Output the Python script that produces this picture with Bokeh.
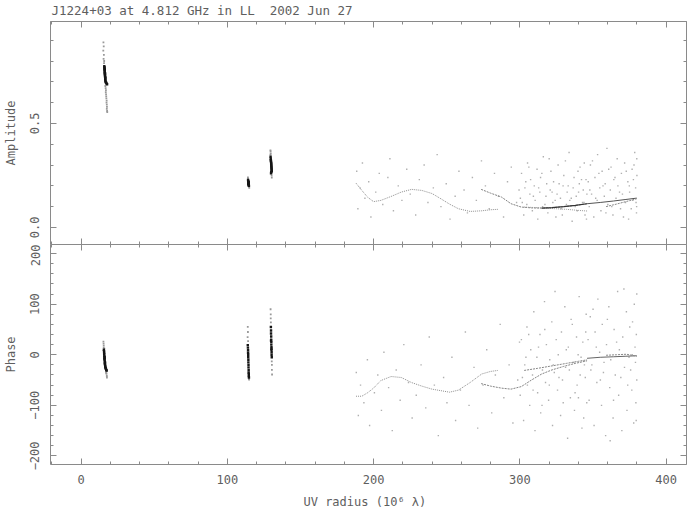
from bokeh.plotting import figure
from bokeh.layouts import column
from bokeh.models import FixedTicker, LinearAxis, Range1d, PrintfTickFormatter
from bokeh.embed import file_html
from bokeh.resources import INLINE

# ---------------- data ----------------
title_text = "J1224+03 at 4.812 GHz in LL\u00a0 2002 Jun 27"
x_major = [0, 100, 200, 300, 400]
amp_major = [0.0, 0.5]
ph_major = [-200, -100, 0, 100, 200]
ph_labels = {-200: "\u2212200", -100: "\u2212100", 0: "0", 100: "100", 200: "200"}

# short-baseline clusters (UV radius, amplitude / phase)
c1_core_uv = [15.9, 16.0, 16.0, 16.1, 16.1, 16.2, 16.2, 16.3, 16.3, 16.4, 16.4, 16.5, 16.5, 16.6, 16.7, 16.8, 17.0, 17.3, 17.6, 17.8, 16.2, 16.4, 16.6]
c1_core_amp = [0.775, 0.77, 0.765, 0.76, 0.755, 0.75, 0.745, 0.74, 0.735, 0.73, 0.725, 0.72, 0.715, 0.71, 0.705, 0.70, 0.697, 0.694, 0.69, 0.688, 0.76, 0.74, 0.72]
c1_halo_uv = [15.3, 15.5, 15.2, 15.6, 15.4, 15.8, 15.7, 16.6, 16.8, 17.0, 16.9, 17.1, 17.2, 17.3, 17.5, 17.4, 17.6, 17.7, 17.6, 17.8, 17.9]
c1_halo_amp = [0.89, 0.87, 0.85, 0.83, 0.81, 0.80, 0.79, 0.68, 0.67, 0.66, 0.65, 0.64, 0.63, 0.62, 0.61, 0.60, 0.59, 0.58, 0.57, 0.56, 0.555]
c1p_core_uv = [15.6, 15.7, 15.8, 15.8, 15.9, 16.0, 16.0, 16.1, 16.2, 16.3, 16.3, 16.4, 16.5, 16.6, 16.8, 17.0, 17.2, 17.5, 16.1, 16.4, 16.9]
c1p_core_ph = [10, 7, 4, 1, -2, -5, -8, -10, -13, -16, -18, -20, -22, -24, -26, -28, -30, -31, -6, -15, -27]
c1p_halo_uv = [15.3, 15.4, 15.5, 15.5, 15.9, 16.2, 17.3, 17.4, 17.6, 17.7, 17.1]
c1p_halo_ph = [26, 22, 18, 14, 12, -3, -34, -38, -42, -45, -36]

c2_core_uv = [114.2, 114.3, 114.4, 114.5, 114.4, 114.6, 114.5, 114.7, 114.6, 114.8, 114.5, 114.3]
c2_core_amp = [0.228, 0.224, 0.22, 0.217, 0.214, 0.211, 0.208, 0.205, 0.202, 0.20, 0.218, 0.21]
c2_halo_uv = [114.1, 114.2, 114.9, 115.0, 114.8]
c2_halo_amp = [0.24, 0.235, 0.195, 0.19, 0.197]
c2p_core_uv = [114.0, 114.1, 114.2, 114.2, 114.3, 114.3, 114.4, 114.4, 114.5, 114.5, 114.6, 114.6, 114.7, 114.7, 114.8]
c2p_core_ph = [19, 14, 9, 4, 0, -5, -10, -15, -20, -25, -30, -35, -38, -42, -45]
c2p_halo_uv = [114.0, 114.1, 113.9, 114.2, 114.8, 114.9]
c2p_halo_ph = [55, 45, 35, 27, -48, -49]

c3_core_uv = [129.6, 129.7, 129.8, 129.8, 129.9, 130.0, 130.0, 130.1, 130.1, 130.2, 130.2, 130.3, 130.3, 130.4, 130.0, 129.9]
c3_core_amp = [0.34, 0.33, 0.325, 0.32, 0.315, 0.31, 0.305, 0.30, 0.295, 0.29, 0.285, 0.28, 0.275, 0.27, 0.265, 0.26]
c3_halo_uv = [129.5, 129.6, 129.7, 129.5, 130.3, 130.4]
c3_halo_amp = [0.37, 0.365, 0.355, 0.35, 0.25, 0.24]
c3p_core_uv = [129.8, 129.9, 129.9, 130.0, 130.0, 130.1, 130.1, 130.2, 130.2, 130.3, 130.3, 130.4, 129.9, 130.2]
c3p_core_ph = [55, 48, 42, 36, 30, 25, 20, 15, 10, 5, 0, -5, 28, 12]
c3p_halo_uv = [129.6, 129.7, 129.7, 129.8, 130.4, 130.5, 130.5, 130.6]
c3p_halo_ph = [90, 80, 72, 64, -13, -20, -30, -39]

# long-baseline tracks
trkA_uv = [188, 192, 196, 200, 205, 212, 219, 226, 233, 240, 246, 252, 258, 266, 274, 280, 285]
trkA_amp = [0.213, 0.178, 0.145, 0.124, 0.13, 0.149, 0.17, 0.183, 0.178, 0.163, 0.138, 0.112, 0.09, 0.077, 0.08, 0.085, 0.087]
trkA_ph = [-82, -82, -75, -66, -51, -43, -45, -55, -62, -68, -71, -74, -70, -55, -38, -33, -31]
trkB_uv = [273.6, 280, 287.5, 294, 301, 308, 315, 322, 330, 338, 346]
trkB_amp = [0.183, 0.165, 0.146, 0.114, 0.098, 0.094, 0.093, 0.095, 0.1, 0.106, 0.114]
trkB_ph = [-57, -62, -66, -68, -63, -50, -38, -30, -23, -17, -12]
trkC_uv = [303, 312, 322, 332, 340, 346]
trkC_amp = [0.098, 0.095, 0.091, 0.087, 0.082, 0.079]
trkC_ph = [-31, -27, -22, -17, -13, -10]
trkD_uv = [346, 355, 364, 372, 380]
trkD_amp = [0.114, 0.12, 0.127, 0.134, 0.141]
trkD_ph = [-7, -5, -4, -3, -2]
trkE_uv = [359, 366, 373, 380]
trkE_amp = [0.10, 0.112, 0.125, 0.138]
trkE_ph = [-1, 0, 1, -3]

# scattered long-baseline visibilities (amplitude)
cloud_amp_uv = [188.5, 189.3, 190.8, 192.4, 194.1, 196.7, 198.2, 201.5, 203.9, 206.3, 209.8, 211.2, 213.6, 216.9, 219.4, 222.7, 225.1, 228.8, 231.3, 234.6, 237.2, 240.9, 243.5, 246.1, 249.7, 252.3, 255.8, 258.4, 261.9, 264.2, 267.6, 270.3, 273.8, 276.5, 279.1, 282.7, 285.4, 288.9, 291.6, 294.2, 297.8, 299.5,
                300.4, 301.2, 302.7, 303.5, 304.8, 305.3, 306.9, 307.4, 308.6, 309.9, 310.5, 311.8, 312.3, 313.7, 314.2, 315.6, 316.1, 317.9, 318.4, 319.2, 320.8, 321.3, 322.6, 323.1, 324.7, 325.5, 326.2, 327.8, 328.3, 329.6, 330.1, 331.9, 332.4, 333.7, 334.2, 335.8, 336.5, 337.1, 338.6, 339.3, 340.7, 341.2, 342.9, 343.4, 344.6, 345.3, 345.9,
                301.7, 304.1, 306.2, 309.3, 312.9, 315.1, 317.2, 320.1, 322.1, 324.2, 326.9, 329.1, 331.2, 333.1, 335.2, 337.9, 339.8, 342.2, 344.1, 345.6, 343.9, 340.2,
                346.8, 347.5, 348.3, 349.1, 350.6, 351.4, 352.9, 353.2, 354.7, 355.5, 356.3, 357.8, 358.4, 359.6, 360.2, 361.9, 362.4, 363.7, 364.3, 365.8, 366.6, 367.1, 368.9, 369.5, 370.2, 371.7, 372.3, 373.9, 374.4, 375.1, 376.8, 377.3, 378.6, 379.2, 379.8, 380.1,
                379.5, 378.1, 376.2, 374.9, 372.8, 370.9, 368.2, 365.1, 362.9, 360.8, 358.9, 356.9, 354.1, 351.9, 349.7, 347.9, 380.0, 379.9, 377.7]
cloud_amp = [0.27, 0.09, 0.19, 0.31, 0.14, 0.22, 0.05, 0.17, 0.26, 0.11, 0.24, 0.33, 0.08, 0.20, 0.13, 0.28, 0.16, 0.06, 0.23, 0.30, 0.12, 0.19, 0.35, 0.10, 0.21, 0.04, 0.15, 0.27, 0.18, 0.07, 0.24, 0.13, 0.32, 0.20, 0.09, 0.26, 0.15, 0.05, 0.22, 0.29, 0.12, 0.18,
             0.14, 0.26, 0.06, 0.19, 0.11, 0.31, 0.16, 0.23, 0.08, 0.20, 0.13, 0.28, 0.04, 0.17, 0.24, 0.10, 0.34, 0.15, 0.21, 0.07, 0.18, 0.27, 0.12, 0.22, 0.05, 0.16, 0.30, 0.14, 0.09, 0.20, 0.25, 0.11, 0.17, 0.36, 0.13, 0.03, 0.19, 0.24, 0.15, 0.08, 0.21, 0.29, 0.12, 0.18, 0.06, 0.23, 0.16,
             0.12, 0.22, 0.29, 0.15, 0.19, 0.26, 0.11, 0.33, 0.17, 0.13, 0.21, 0.06, 0.32, 0.20, 0.14, 0.10, 0.27, 0.23, 0.31, 0.04, 0.12, 0.17,
             0.22, 0.10, 0.30, 0.16, 0.05, 0.24, 0.13, 0.35, 0.19, 0.08, 0.27, 0.15, 0.21, 0.38, 0.11, 0.18, 0.29, 0.06, 0.23, 0.14, 0.33, 0.20, 0.09, 0.26, 0.16, 0.31, 0.12, 0.22, 0.04, 0.17, 0.28, 0.13, 0.36, 0.19, 0.07, 0.25,
             0.12, 0.30, 0.09, 0.20, 0.27, 0.05, 0.17, 0.24, 0.10, 0.28, 0.07, 0.20, 0.26, 0.14, 0.32, 0.18, 0.33, 0.10, 0.23]

# scattered long-baseline visibilities (phase)
cloud_ph_uv = [188.2, 189.6, 191.1, 193.4, 195.8, 197.3, 200.6, 202.9, 205.4, 207.1, 210.3, 212.8, 215.5, 218.2, 220.7, 223.9, 226.4, 229.2, 232.5, 235.7, 238.1, 241.6, 244.3, 247.9, 250.2, 253.6, 256.1, 259.4, 262.8, 265.3, 268.7, 271.2, 274.9, 277.4, 280.8, 283.3, 286.6, 289.1, 292.7, 295.3, 298.6, 299.8,
               300.3, 301.1, 302.6, 303.4, 304.9, 305.2, 306.8, 307.5, 308.7, 309.6, 310.4, 311.7, 312.2, 313.8, 314.3, 315.5, 316.9, 317.6, 318.2, 319.7, 320.5, 321.9, 322.4, 323.6, 324.1, 325.8, 326.3, 327.9, 328.5, 329.2, 330.8, 331.3, 332.7, 333.2, 334.6, 335.1, 336.9, 337.4, 338.8, 339.2, 340.6, 341.9, 342.5, 343.1, 344.8, 345.4, 345.8,
               301.8, 304.2, 306.1, 309.1, 312.8, 315.2, 317.1, 320.2, 322.9, 324.9, 326.8, 329.7, 331.8, 333.9, 335.9, 337.8, 339.9, 341.3, 343.7, 345.1, 344.2, 340.1,
               346.7, 347.4, 348.2, 349.3, 350.8, 351.5, 352.7, 353.4, 354.6, 355.9, 356.4, 357.2, 358.7, 359.3, 360.9, 361.5, 362.2, 363.8, 364.5, 365.3, 366.9, 367.6, 368.1, 369.8, 370.4, 371.6, 372.9, 373.3, 374.7, 375.2, 376.6, 377.9, 378.3, 379.1, 379.7, 380.0,
               379.4, 378.8, 377.1, 375.8, 373.8, 371.2, 369.1, 366.2, 364.1, 361.8, 359.9, 357.6, 355.1, 352.3, 350.1, 348.6, 380.0, 379.6, 376.9]
cloud_ph = [-35, -120, -60, -95, -10, -140, -75, -40, -110, 5, -65, -150, -30, -90, 20, -55, -125, -80, -20, -105, 35, -60, -160, -45, -95, -5, -130, -70, 45, -100, -25, -145, -60, 10, -115, -40, 60, -85, -20, -135, -50, 25,
            -80, 30, -130, -20, 55, -60, -100, 10, -40, 85, -150, -5, -75, 40, -115, -30, 105, -55, 20, -90, -10, 65, -140, -35, 125, -70, 0, -120, 45, -50, 95, -25, -165, 15, -85, 70, -15, -110, 35, -60, 115, -5, -145, 25, -45, 80, -95,
            -45, -5, 40, -70, 15, -100, 50, -60, -20, 30, -45, -95, 10, -30, 60, -75, 0, -40, -125, 45, -20, -85,
            30, -90, 75, -20, -140, 45, -55, 110, 5, -100, 60, -35, -160, 20, 95, -65, -10, -125, 50, -40, 125, -80, 10, -150, 35, -25, 85, -110, -5, 55, -70, -135, 100, -15, 40, -50,
            -95, 15, 65, -30, -60, 130, -45, 25, -90, -170, 70, -15, -50, 15, 90, -30, 120, -130, 0]

# ---------------- style ----------------
AX = "#8a8a8a"
TXT = "#5e5e5e"
FONT = "DejaVu Sans Mono"
FS = "12px"
W = 691
H1 = 244
H2 = 267

xr = Range1d(-20.9, 414.0)

x_minor = [v for v in range(-20, 421, 20) if v % 100 != 0]
amp_minor = [0.1, 0.2, 0.3, 0.4, 0.6, 0.7, 0.8, 0.9]
ph_minor = [v for v in range(-220, 221, 20) if v % 100 != 0]


def style_axis(ax):
    ax.axis_line_color = AX
    ax.axis_line_width = 1
    ax.major_tick_line_color = AX
    ax.minor_tick_line_color = AX
    ax.major_tick_in = 6
    ax.major_tick_out = 0
    ax.minor_tick_in = 3
    ax.minor_tick_out = 0
    ax.major_label_text_font = FONT
    ax.major_label_text_font_size = FS
    ax.major_label_text_color = TXT
    ax.axis_label_text_font = FONT
    ax.axis_label_text_font_size = FS
    ax.axis_label_text_font_style = "normal"
    ax.axis_label_text_color = TXT
    return ax


def tick_only(p, side, majors, minors):
    # unlabelled frame edge: long and short inward ticks
    a1 = LinearAxis(ticker=FixedTicker(ticks=[], minor_ticks=majors))
    a2 = LinearAxis(ticker=FixedTicker(ticks=[], minor_ticks=minors))
    for a, ln in ((a1, 6), (a2, 3)):
        a.axis_line_color = AX
        a.minor_tick_line_color = AX
        a.major_tick_line_color = None
        a.minor_tick_in = ln
        a.minor_tick_out = 0
        a.major_tick_in = 0
        a.major_tick_out = 0
        a.major_label_standoff = 0
        a.axis_label_standoff = 0
        p.add_layout(a, side)


def make_fig(h, yr, top, bottom, title=None):
    kw = dict(width=W, height=h, x_range=xr, y_range=yr,
              output_backend="svg", toolbar_location=None,
              x_axis_location=None, y_axis_location=None,
              min_border_left=48, min_border_right=5,
              min_border_top=top, min_border_bottom=bottom)
    if title:
        kw["title"] = title
    p = figure(**kw)
    p.outline_line_color = None
    p.background_fill_color = "white"
    p.border_fill_color = "white"
    for g in p.grid:
        g.visible = False
    return p


# ---------------- amplitude panel ----------------
p1 = make_fig(H1, Range1d(-0.082, 0.99), 21, 0, title=title_text)
p1.title.align = "left"
p1.title.vertical_align = "top"
p1.title.text_font = FONT
p1.title.text_font_size = "12.5px"
p1.title.text_font_style = "normal"
p1.title.text_color = TXT
p1.title.standoff = 3
p1.title.offset = 1

la = style_axis(LinearAxis(ticker=FixedTicker(ticks=amp_major, minor_ticks=amp_minor),
                           formatter=PrintfTickFormatter(format="%.1f"), axis_label="Amplitude"))
la.major_label_orientation = "vertical"
la.major_label_standoff = 11
la.axis_label_standoff = 10
p1.add_layout(la, "left")
tick_only(p1, "right", amp_major, amp_minor)
tick_only(p1, "above", x_major, x_minor)
tick_only(p1, "below", x_major, x_minor)

p1.scatter(cloud_amp_uv, cloud_amp, marker="square", size=1.4, fill_color="#b0b0b0", line_color=None)
for u, a, c, d in [(trkA_uv, trkA_amp, "#909090", "1 1"), (trkB_uv, trkB_amp, "#808080", "2 1"),
                   (trkC_uv, trkC_amp, "#9a9a9a", "1 1"), (trkD_uv, trkD_amp, "#555555", "solid"),
                   (trkE_uv, trkE_amp, "#888888", "2 1")]:
    p1.line(u, a, line_color=c, line_width=1, line_dash=d)
p1.line(trkB_uv[6:], trkB_amp[6:], line_color="#333333", line_width=1.2)
for u, a in [(c1_halo_uv, c1_halo_amp), (c2_halo_uv, c2_halo_amp), (c3_halo_uv, c3_halo_amp)]:
    p1.scatter(u, a, marker="square", size=1.8, fill_color="#999999", line_color=None)
for u, a in [(c1_core_uv, c1_core_amp), (c2_core_uv, c2_core_amp), (c3_core_uv, c3_core_amp)]:
    p1.scatter(u, a, marker="square", size=2.4, fill_color="#151515", line_color=None)

# ---------------- phase panel ----------------
p2 = make_fig(H2, Range1d(-217, 218), 0, 42)
lp = style_axis(LinearAxis(ticker=FixedTicker(ticks=ph_major, minor_ticks=ph_minor), axis_label="Phase"))
lp.major_label_overrides = ph_labels
lp.major_label_orientation = "vertical"
lp.major_label_standoff = 11
lp.axis_label_standoff = 10
p2.add_layout(lp, "left")
tick_only(p2, "right", ph_major, ph_minor)
tick_only(p2, "above", x_major, x_minor)
bx = style_axis(LinearAxis(ticker=FixedTicker(ticks=x_major, minor_ticks=x_minor),
                           axis_label="UV radius  (10\u2076 \u03bb)"))
bx.major_label_standoff = 10
bx.axis_label_standoff = 8
p2.add_layout(bx, "below")

p2.scatter(cloud_ph_uv, cloud_ph, marker="square", size=1.4, fill_color="#b0b0b0", line_color=None)
for u, ph, c, d in [(trkA_uv, trkA_ph, "#909090", "1 1"), (trkB_uv, trkB_ph, "#858585", "2 1"),
                    (trkC_uv, trkC_ph, "#858585", "2 1"), (trkD_uv, trkD_ph, "#666666", "solid"),
                    (trkE_uv, trkE_ph, "#888888", "2 1")]:
    p2.line(u, ph, line_color=c, line_width=1, line_dash=d)
for u, ph in [(c1p_halo_uv, c1p_halo_ph), (c2p_halo_uv, c2p_halo_ph), (c3p_halo_uv, c3p_halo_ph)]:
    p2.scatter(u, ph, marker="square", size=1.8, fill_color="#999999", line_color=None)
for u, ph in [(c1p_core_uv, c1p_core_ph), (c2p_core_uv, c2p_core_ph), (c3p_core_uv, c3p_core_ph)]:
    p2.scatter(u, ph, marker="square", size=2.4, fill_color="#151515", line_color=None)

layout = column(p1, p2, spacing=0)
open("out.html", "w").write(file_html(layout, INLINE))
